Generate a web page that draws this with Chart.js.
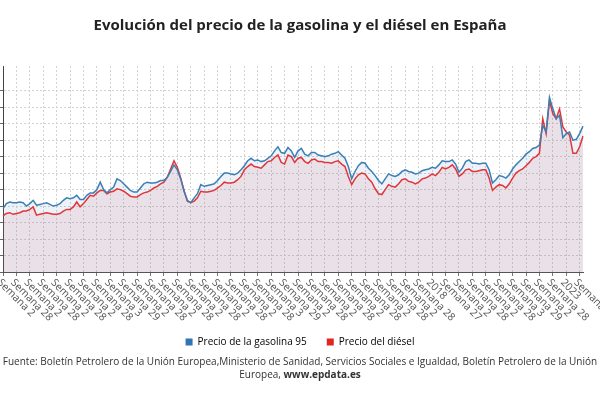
<!DOCTYPE html>
<html>
<head>
<meta charset="utf-8">
<script src="https://cdn.jsdelivr.net/npm/chart.js@4.4.0/dist/chart.umd.min.js"></script>
<style>
  body { margin: 0; background: #fff; }
  #wrap { position: relative; width: 600px; height: 400px; }
  #fuente {
    position: absolute; left: 0; top: 355px; width: 600px;
    text-align: center; font: 10px "Open Sans"; line-height: 13px;
    color: #333; white-space: nowrap;
  }
</style>
</head>
<body>
<div id="wrap">
  <canvas id="mycanvas" width="600" height="400"></canvas>
  <div id="fuente">Fuente: Boletín Petrolero de la Unión Europea,Ministerio de Sanidad, Servicios Sociales e Igualdad, Boletín Petrolero de la Unión<br>Europea, <b>www.epdata.es</b></div>
</div>
<script>
// etiquetas del eje x (una cada medio año)
var tickLabels = [
  "Semana 2", "Semana 28", "Semana 2", "Semana 28", "Semana 2", "Semana 28", "Semana 2", "Semana 28",
  "Semana 3", "Semana 29", "Semana 2", "Semana 28", "Semana 2", "Semana 28", "Semana 2", "Semana 28",
  "Semana 2", "Semana 28", "Semana 2", "Semana 28", "Semana 3", "Semana 29", "Semana 2", "Semana 28",
  "Semana 2", "Semana 28", "Semana 2", "Semana 28", "Semana 2", "Semana 28", "Semana 2", "Semana 28",
  "2018", "Semana 27", "Semana 2", "Semana 28", "Semana 2", "Semana 28", "Semana 3", "Semana 29",
  "Semana 2", "Semana 28", "2023", "Semana 28"
];
var pointsPerTick = 4;

// precio medio (euros/litro), 2002 - 2023
var gasolina = [
  0.77, 0.83, 0.85, 0.84, 0.84, 0.85, 0.84, 0.80,
  0.83, 0.87, 0.81, 0.82, 0.83, 0.84, 0.82, 0.80,
  0.81, 0.83, 0.87, 0.90, 0.89, 0.90, 0.93, 0.88,
  0.88, 0.93, 0.96, 0.96, 1.00, 1.09, 1.00, 0.96,
  1.00, 1.03, 1.13, 1.11, 1.07, 1.03, 0.99, 0.97,
  0.97, 1.02, 1.07, 1.09, 1.08, 1.08, 1.09, 1.11,
  1.11, 1.15, 1.22, 1.30, 1.24, 1.13, 0.98, 0.87,
  0.84, 0.90, 0.95, 1.06, 1.04, 1.05, 1.06, 1.07,
  1.11, 1.16, 1.20, 1.20, 1.19, 1.18, 1.20, 1.24,
  1.29, 1.35, 1.38, 1.35, 1.36, 1.34, 1.35, 1.38,
  1.41, 1.47, 1.52, 1.45, 1.44, 1.51, 1.47, 1.39,
  1.47, 1.50, 1.43, 1.41, 1.45, 1.45, 1.42, 1.41,
  1.40, 1.41, 1.43, 1.44, 1.46, 1.42, 1.38, 1.28,
  1.13, 1.22, 1.29, 1.33, 1.32, 1.26, 1.22, 1.17,
  1.11, 1.07, 1.13, 1.19, 1.17, 1.16, 1.18, 1.22,
  1.24, 1.22, 1.21, 1.19, 1.20, 1.23, 1.24, 1.25,
  1.27, 1.26, 1.30, 1.35, 1.34, 1.34, 1.36, 1.31,
  1.21, 1.26, 1.34, 1.36, 1.32, 1.32, 1.31, 1.32,
  1.32, 1.24, 1.08, 1.12, 1.17, 1.16, 1.14, 1.18,
  1.25, 1.30, 1.34, 1.38, 1.43, 1.46, 1.50, 1.51,
  1.54, 1.78, 1.70, 2.12, 1.98, 1.86, 1.90, 1.63,
  1.68, 1.70, 1.60, 1.61, 1.68, 1.77
];
var diesel = [
  0.68, 0.71, 0.72, 0.70, 0.71, 0.72, 0.74, 0.74,
  0.76, 0.79, 0.69, 0.70, 0.71, 0.72, 0.71, 0.70,
  0.70, 0.71, 0.74, 0.76, 0.76, 0.79, 0.85, 0.79,
  0.83, 0.88, 0.93, 0.92, 0.96, 0.99, 0.99, 0.95,
  0.97, 0.98, 1.01, 1.00, 0.98, 0.95, 0.92, 0.91,
  0.91, 0.94, 0.96, 0.97, 0.99, 1.02, 1.04, 1.07,
  1.09, 1.15, 1.25, 1.35, 1.27, 1.14, 0.99, 0.86,
  0.84, 0.86, 0.90, 0.98, 0.97, 0.97, 0.98, 0.99,
  1.02, 1.05, 1.09, 1.08, 1.08, 1.09, 1.12, 1.16,
  1.24, 1.28, 1.31, 1.28, 1.27, 1.26, 1.30, 1.34,
  1.35, 1.39, 1.42, 1.33, 1.31, 1.42, 1.40, 1.33,
  1.38, 1.39, 1.34, 1.32, 1.36, 1.37, 1.34, 1.34,
  1.33, 1.33, 1.32, 1.34, 1.35, 1.31, 1.28, 1.16,
  1.06, 1.13, 1.18, 1.20, 1.19, 1.13, 1.09, 1.01,
  0.95, 0.94, 1.00, 1.06, 1.04, 1.03, 1.07, 1.12,
  1.13, 1.10, 1.09, 1.07, 1.09, 1.13, 1.14, 1.16,
  1.19, 1.17, 1.21, 1.27, 1.25, 1.27, 1.30, 1.25,
  1.16, 1.19, 1.24, 1.25, 1.22, 1.22, 1.23, 1.24,
  1.24, 1.14, 0.99, 1.03, 1.06, 1.05, 1.02, 1.07,
  1.14, 1.20, 1.23, 1.25, 1.29, 1.33, 1.38, 1.40,
  1.44, 1.86, 1.68, 2.08, 1.92, 1.86, 1.98, 1.76,
  1.70, 1.66, 1.44, 1.44, 1.52, 1.65
];

// una categoria por punto; las de tick salen de tickLabels
var categories = [];
for (var k = 0; k < tickLabels.length; k++) {
  categories.push(tickLabels[k]);
  var n = parseInt(tickLabels[k].replace("Semana ", ""), 10);
  if (n > 100) n = 1;
  for (var j = 1; j < pointsPerTick && categories.length < gasolina.length; j++) {
    categories.push("Semana " + (n + Math.round(6.5 * j)));
  }
}
while (categories.length < gasolina.length) categories.push("Semana 36");

// etiquetas del eje x inclinadas hacia abajo a la derecha
var rotatedLabels = {
  id: 'rotatedLabels',
  afterDraw: function(chart) {
    var scale = chart.scales.x;
    var ctx = chart.ctx;
    ctx.save();
    ctx.font = '10.5px "Open Sans"';
    ctx.fillStyle = '#555';
    ctx.textAlign = 'left';
    ctx.textBaseline = 'middle';
    for (var i = 0; i < scale.ticks.length; i++) {
      var x = scale.getPixelForTick(i);
      ctx.save();
      ctx.translate(x - 4, chart.chartArea.bottom + 9);
      ctx.rotate(Math.PI / 4);
      ctx.fillText(categories[scale.ticks[i].value], 0, 0);
      ctx.restore();
    }
    ctx.restore();
  }
};

var chartdata = {
  labels: categories,
  datasets: [
    {
      label: 'Precio de la gasolina 95',
      data: gasolina,
      borderColor: '#3b7fb6',
      backgroundColor: 'rgba(70, 130, 190, 0.10)',
      legendColor: '#2f75b5',
      borderWidth: 1.5,
      pointRadius: 0,
      fill: 'origin'
    },
    {
      label: 'Precio del diésel',
      data: diesel,
      borderColor: '#e0363a',
      backgroundColor: 'rgba(228, 101, 107, 0.12)',
      legendColor: '#e2261f',
      borderWidth: 1.5,
      pointRadius: 0,
      fill: 'origin'
    }
  ]
};

var ctx = document.getElementById('mycanvas');
var dashboard = new Chart(ctx, {
  type: 'line',
  data: chartdata,
  plugins: [rotatedLabels],
  options: {
    responsive: false,
    animation: false,
    layout: { padding: { left: 0, right: 0, top: 0, bottom: 43 } },
    scales: {
      x: {
        ticks: { display: false, autoSkip: false },
        afterBuildTicks: function(scale) {
          scale.ticks = scale.ticks.filter(function(t) { return t.value % pointsPerTick === 0; });
        },
        afterFit: function(scale) { scale.height = 45; },
        grid: { color: '#d2d2d2', tickLength: 4, tickColor: '#777' },
        border: { color: '#555', dash: [2, 2] }
      },
      y: {
        min: 0,
        max: 2.5,
        ticks: { display: false, stepSize: 0.2 },
        afterBuildTicks: function(scale) {
          scale.ticks = scale.ticks.filter(function(t) {
            return Math.abs(t.value * 5 - Math.round(t.value * 5)) < 1e-6;
          });
        },
        grid: { color: '#d2d2d2', tickLength: 3, tickColor: '#666' },
        border: { color: '#444', dash: [2, 2] }
      },
      // eje vacio a la derecha, solo para dejar el margen
      margen: {
        type: 'linear',
        position: 'right',
        ticks: { display: false },
        grid: { display: false },
        border: { display: false },
        afterFit: function(scale) { scale.width = 17; }
      }
    },
    plugins: {
      filler: { drawTime: 'beforeDatasetsDraw' },
      tooltip: { enabled: false },
      title: {
        display: true,
        text: 'Evolución del precio de la gasolina y el diésel en España',
        color: '#222',
        font: { family: 'Open Sans', size: 15, weight: 'bold' },
        padding: { top: 17, bottom: 31 }
      },
      legend: {
        position: 'bottom',
        labels: {
          boxWidth: 7,
          boxHeight: 7,
          padding: 20,
          color: '#333',
          font: { family: 'Open Sans', size: 10 },
          generateLabels: function(chart) {
            return chart.data.datasets.map(function(ds, i) {
              return {
                text: ds.label,
                fillStyle: ds.legendColor,
                strokeStyle: ds.legendColor,
                lineWidth: 0,
                hidden: false,
                datasetIndex: i
              };
            });
          }
        }
      }
    }
  }
});
</script>
</body>
</html>
